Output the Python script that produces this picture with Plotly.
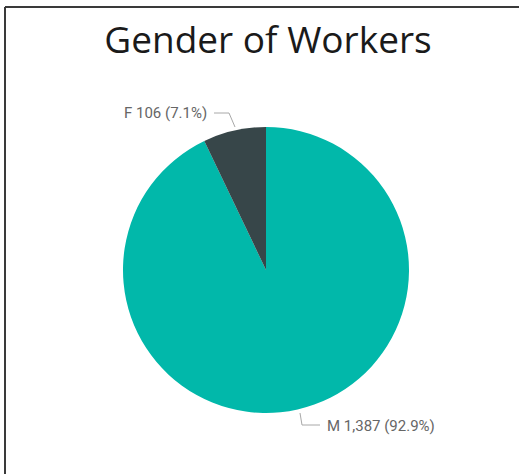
import plotly.graph_objects as go

W, H = 519, 474

genders = ["M", "F"]
workers = [1387, 106]
colors = ["#01B8AA", "#374649"]

total = sum(workers)
label_text = {g: f"{g} {v:,} ({v / total * 100:.1f}%)" for g, v in zip(genders, workers)}


def px_x(x):
    return x / W


def px_y(y):
    return 1 - y / H


fig = go.Figure(
    go.Pie(
        labels=genders,
        values=workers,
        marker=dict(colors=colors, line=dict(width=0)),
        sort=False,
        direction="clockwise",
        rotation=0,
        textinfo="none",
        hoverinfo="label+value+percent",
        domain=dict(x=[px_x(123), px_x(409)], y=[px_y(413), px_y(127)]),
        showlegend=False,
    )
)

label_font = dict(family="Roboto, DejaVu Sans, sans-serif", size=15, color="#666666")
fig.add_annotation(x=px_x(209), y=px_y(113), xref="paper", yref="paper", text=label_text["F"],
                   showarrow=False, xanchor="right", yanchor="middle", font=label_font)
fig.add_annotation(x=px_x(325), y=px_y(426), xref="paper", yref="paper", text=label_text["M"],
                   showarrow=False, xanchor="left", yanchor="middle", font=label_font)

leader = dict(color="#a8a8a8", width=1)
fig.add_shape(type="path", xref="paper", yref="paper", line=leader,
              path=f"M {px_x(214)} {px_y(113)} L {px_x(229)} {px_y(113)} L {px_x(235)} {px_y(127)}")
fig.add_shape(type="path", xref="paper", yref="paper", line=leader,
              path=f"M {px_x(300)} {px_y(413)} L {px_x(302)} {px_y(425)} L {px_x(320)} {px_y(425)}")

# frame (only top and left edges are visible in the crop)
frame = dict(color="#3a3a3a", width=2)
fig.add_shape(type="line", xref="paper", yref="paper", x0=px_x(5), x1=1, y0=px_y(7), y1=px_y(7), line=frame)
fig.add_shape(type="line", xref="paper", yref="paper", x0=px_x(5), x1=px_x(5), y0=px_y(7), y1=0, line=frame)

fig.update_layout(
    width=W,
    height=H,
    autosize=False,
    margin=dict(l=0, r=0, t=0, b=0),
    paper_bgcolor="white",
    plot_bgcolor="white",
    title=dict(
        text="Gender of Workers",
        x=px_x(268),
        xanchor="center",
        y=px_y(40),
        yanchor="middle",
        font=dict(family="Open Sans, Noto Sans, sans-serif", size=37, color="#1a1a1a"),
    ),
)

fig.write_html(
    "out.html",
    config={"displayModeBar": False},
    post_script="document.body.style.margin='0';document.body.style.overflow='hidden';",
)
